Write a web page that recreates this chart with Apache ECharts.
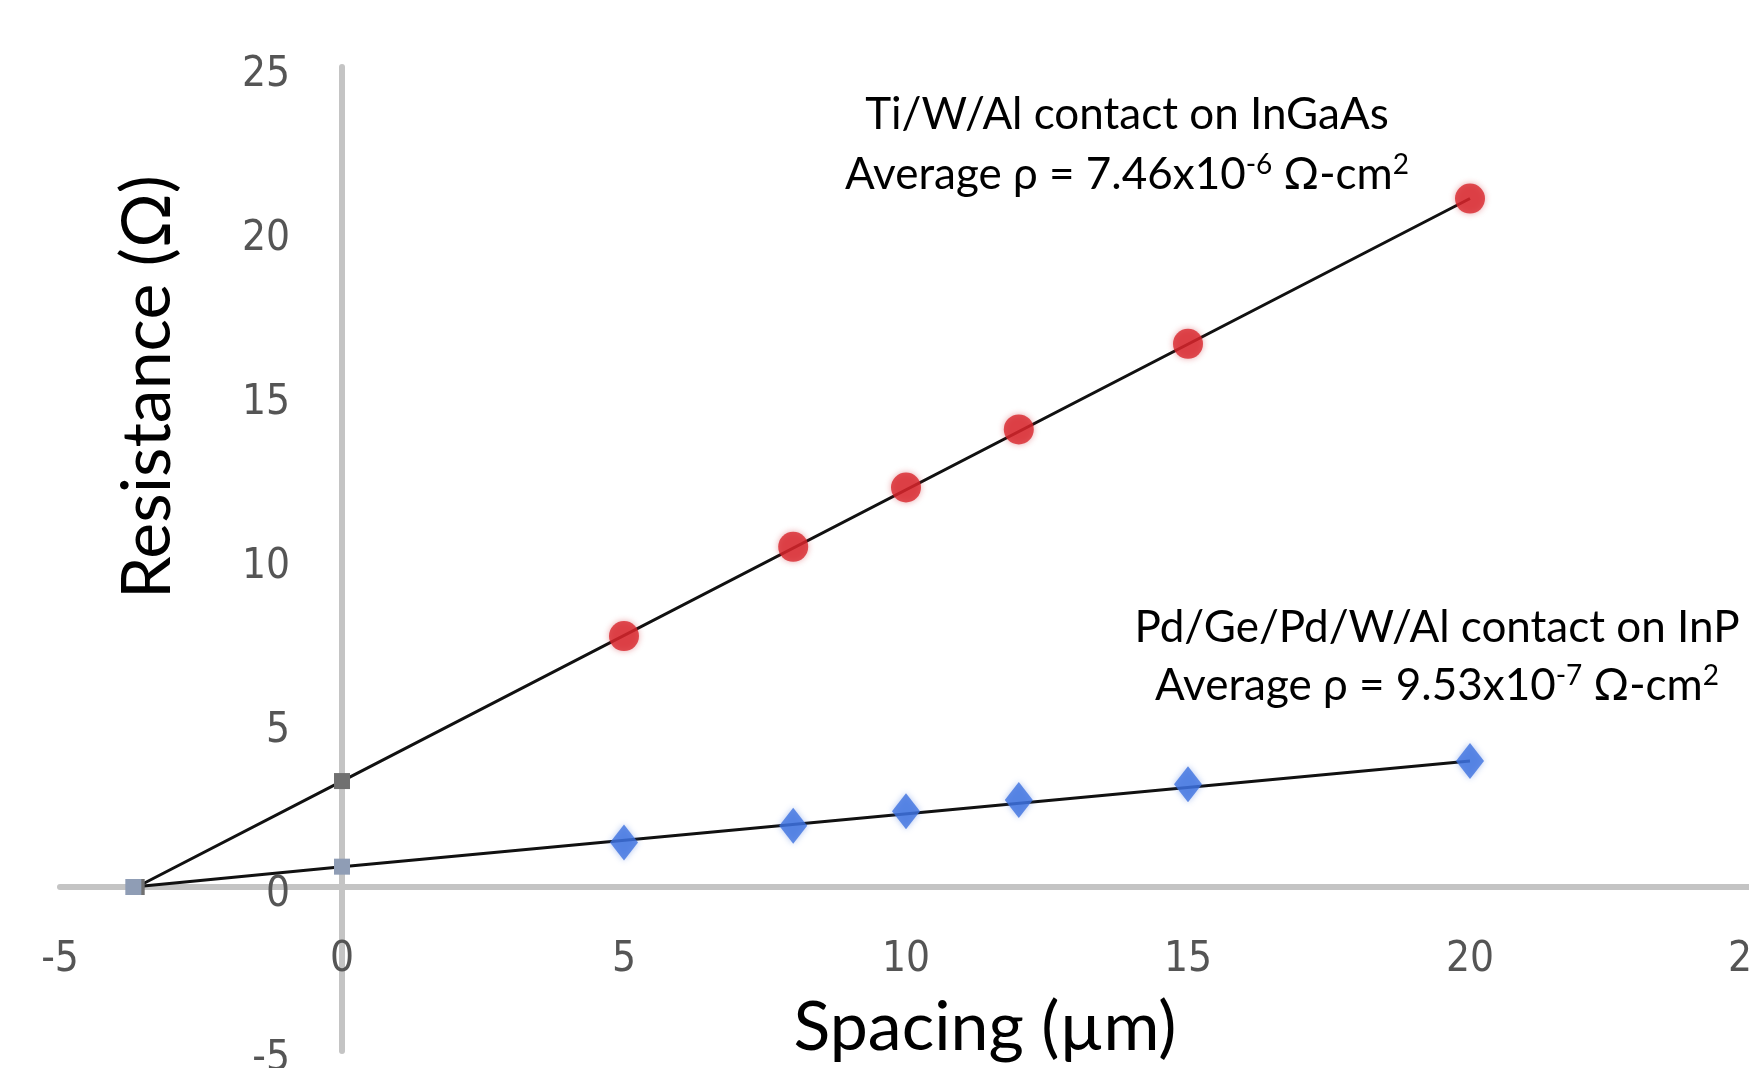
<!DOCTYPE html>
<html>
<head>
<meta charset="utf-8">
<script src="https://cdn.jsdelivr.net/npm/echarts@6/dist/echarts.min.js"></script>
<style>
  html, body { margin: 0; padding: 0; background: #fff; }
  #chart { width: 1749px; height: 1068px; }
</style>
</head>
<body>
<div id="chart"></div>
<script>
// spacing (µm) and measured resistance (Ω)
const spacing = [5, 8, 10, 12, 15, 20];
const resTiWAl = [7.65, 10.37, 12.18, 13.95, 16.56, 20.99];
const resPdGe = [1.36, 1.87, 2.31, 2.65, 3.13, 3.84];

// linear fits (x-intercept, y-intercept, end)
const fitTiX = [-3.64, 0, 20];
const fitTiY = [0, 3.23, 20.99];
const fitPdX = [-3.7, 0, 20];
const fitPdY = [0, 0.62, 3.84];

const axisMin = -5;
const axisMax = 25;
const axisStep = 5;

const chart = echarts.init(document.getElementById('chart'));

const tickFont = "'Liberation Sans Narrow', 'DejaVu Sans Condensed', sans-serif";
const textFont = "Lato, 'Open Sans', sans-serif";

const pairs = (xs, ys) => xs.map((x, i) => [x, ys[i]]);

// drop the symbol at the last fit point, the data marker sits there
const fitData = (xs, ys) => pairs(xs, ys).map((p, i) =>
  i === xs.length - 1 ? { value: p, symbol: 'none' } : p);

// grid geometry, used to shift the label axes onto the zero lines
const gridLeft = 60, gridTop = 67, gridW = 1692, gridH = 984;
const zeroX = gridW * (0 - axisMin) / (axisMax - axisMin);
const zeroY = gridH * (axisMax - 0) / (axisMax - axisMin);

const lineAxis = {
  type: 'value',
  min: axisMin,
  max: axisMax,
  interval: axisStep,
  axisLine: { onZero: true, lineStyle: { color: '#c4c4c4', width: 6 } },
  axisTick: { show: false },
  splitLine: { show: false },
  axisLabel: { show: false },
};

const labelAxis = {
  type: 'value',
  min: axisMin,
  max: axisMax,
  interval: axisStep,
  axisLine: { show: false },
  axisTick: { show: false },
  splitLine: { show: false },
  axisLabel: {
    margin: 52,
    fontSize: 42,
    color: '#555',
    fontFamily: tickFont,
  },
};

const subText = (text, x, y) => ({
  type: 'text',
  x: x,
  y: y,
  style: {
    text: text,
    fontSize: 44,
    fontFamily: textFont,
    fill: '#000',
    align: 'center',
    verticalAlign: 'middle',
    rich: {
      sup: { fontSize: 28, fontFamily: textFont, fill: '#000', padding: [0, 0, 20, 0] },
    },
  },
});

const option = {
  backgroundColor: '#fff',
  animation: false,
  grid: {
    left: gridLeft,
    top: gridTop,
    width: gridW,
    height: gridH,
    outerBoundsMode: 'none',
    containLabel: false,
  },
  xAxis: [
    Object.assign({}, lineAxis),
    Object.assign({}, labelAxis, { position: 'bottom', offset: -(gridH - zeroY) }),
  ],
  yAxis: [
    Object.assign({}, lineAxis),
    Object.assign({}, labelAxis, {
      position: 'left',
      offset: -zeroX,
      axisLabel: Object.assign({}, labelAxis.axisLabel, {
        // y labels in the picture sit a little below their value
        formatter: '{v|{value}}',
        rich: {
          v: { fontSize: 42, color: '#555', fontFamily: tickFont, padding: [16, 0, 0, 0] },
        },
      }),
    }),
  ],
  graphic: [
    {
      type: 'text',
      x: 148,
      y: 387,
      rotation: Math.PI / 2,
      style: {
        text: 'Resistance (Ω)',
        fontSize: 68,
        fontFamily: textFont,
        fill: '#000',
        align: 'center',
        verticalAlign: 'middle',
      },
    },
    {
      type: 'text',
      x: 985,
      y: 1028,
      style: {
        text: 'Spacing (µm)',
        fontSize: 68,
        fontFamily: textFont,
        fill: '#000',
        align: 'center',
        verticalAlign: 'middle',
      },
    },
    subText('Ti/W/Al contact on InGaAs', 1127, 115),
    subText('Average ρ = 7.46x10{sup|-6} Ω-cm{sup|2}', 1127, 175),
    subText('Pd/Ge/Pd/W/Al contact on InP', 1437, 628),
    subText('Average ρ = 9.53x10{sup|-7} Ω-cm{sup|2}', 1437, 686),
  ],
  series: [
    {
      name: 'Ti/W/Al fit',
      type: 'line',
      data: fitData(fitTiX, fitTiY),
      symbol: 'rect',
      symbolSize: 16,
      itemStyle: { color: '#707070' },
      lineStyle: { color: '#111', width: 3 },
      z: 2,
    },
    {
      name: 'Pd/Ge/Pd/W/Al fit',
      type: 'line',
      data: fitData(fitPdX, fitPdY),
      symbol: 'rect',
      symbolSize: 16,
      itemStyle: { color: '#8f9db5' },
      lineStyle: { color: '#111', width: 3 },
      z: 2,
    },
    {
      name: 'Ti/W/Al',
      type: 'scatter',
      data: pairs(spacing, resTiWAl),
      symbol: 'circle',
      symbolSize: 30,
      itemStyle: {
        color: '#d8262c',
        shadowBlur: 6,
        shadowColor: 'rgba(200,30,40,0.5)',
      },
      z: 3,
    },
    {
      name: 'Pd/Ge/Pd/W/Al',
      type: 'scatter',
      data: pairs(spacing, resPdGe),
      symbol: 'diamond',
      symbolSize: [28, 36],
      itemStyle: {
        color: '#3d72e0',
        shadowBlur: 6,
        shadowColor: 'rgba(60,110,220,0.5)',
      },
      z: 3,
    },
  ],
};

chart.setOption(option);
</script>
</body>
</html>
